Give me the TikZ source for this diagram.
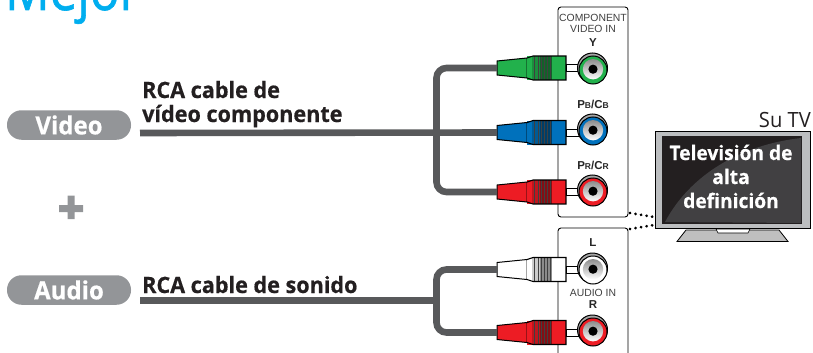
\documentclass[tikz,border=0pt]{standalone}
\usepackage{fontspec}
\setmainfont{Open Sans}[FakeStretch=0.96,BoldFeatures={FakeBold=0.5}]
\newfontfamily\arialf{Liberation Sans}
\newfontfamily\mejorf{Open Sans}[FakeStretch=0.85,FakeBold=1]
\definecolor{cablegray}{HTML}{58595B}
\definecolor{pillgray}{HTML}{939598}
\definecolor{mejorcyan}{HTML}{00AEEF}
\definecolor{rgreen}{HTML}{22B14C}
\definecolor{rblue}{HTML}{0071BC}
\definecolor{rred}{HTML}{ED1C24}
\definecolor{tvdark}{HTML}{231F20}
\definecolor{tvlight}{HTML}{414042}
\definecolor{tvframe}{HTML}{BCBEC0}
\newcommand{\fsz}[1]{\fontsize{#1}{#1}\selectfont}
% name, plug y, jack y, fill colour
\newcommand{\rcaplug}[4]{%
  \begin{scope}[shift={(0,#2)}]
    \coordinate (#1tip) at (497,0);
    \draw[black,line width=1pt,fill=#4] (497,-7) -- (527,-10) -- (527,10) -- (497,7) -- cycle;
    \fill[#4] (527,-12) rectangle (566,12);
    \fill[#4!55!black] (540,-12) rectangle (552,12);
    \fill[#4!80!black] (532,-12) rectangle (540,12);
    \foreach \xx in {534,538,541,544,547,550}
      \draw[black!75,line width=.5pt] (\xx,-12) -- (\xx,12);
    \draw[black,line width=1.1pt] (527,-10) -- (533,-12) -- (566,-12) -- (566,12) -- (533,12) -- (527,10);
    \draw[black,line width=.8pt,fill=white] (566,-3.5) rectangle (582,3.5);
  \end{scope}
  \begin{scope}[shift={(593,#3)}]
    \draw[black,line width=1pt,fill=black!35] (-.5,-2) circle (15);
    \draw[black,line width=1pt,fill=#4] (0,0) circle (14);
    \shade[top color=black!45,bottom color=white] (0,-.8) circle (10.2);
    \fill[black] (0,-.8) circle (4.6);
  \end{scope}%
}
\tikzset{
  lbl/.style={inner sep=0pt,anchor=base west,font=\bfseries\fsz{22.5},text=tvdark},
  pill/.style={fill=pillgray,rounded corners=14.5pt,minimum width=124pt,minimum height=29.5pt,inner sep=0pt,text=white,font=\bfseries\fsz{25}},
  cable/.style={draw=cablegray,line width=6.6pt,rounded corners=10pt},
  panel/.style={draw=black,line width=.9pt},
  panellab/.style={inner sep=0pt,anchor=base,text=black!75,font=\arialf\fsz{10.4}},
  jacklab/.style={inner sep=0pt,anchor=base,text=black!85,font=\arialf\bfseries\fsz{11.5}},
  dots/.style={black,line width=3pt,line cap=round,dash pattern=on 0.01pt off 5.6pt},
  tvtext/.style={inner sep=0pt,anchor=base,text=white,font=\bfseries\fsz{20}},
}
\begin{document}
\begin{tikzpicture}[x=1pt,y=-1pt]
\useasboundingbox (0,0) rectangle (813,353);
\begin{scope}
\clip (0,0) rectangle (813,353);
\node[inner sep=0pt,anchor=base west,text=mejorcyan,font=\mejorf\fsz{58}] (mejor) at (5,10) {Mejor};
% panels
\draw[panel,rounded corners=3pt] (558,7) rectangle (628,217);
\draw[panel,rounded corners=3pt] (558,360) -- (558,228) -- (628,228) -- (628,360);
\coordinate (panelA) at (628,214);
\coordinate (panelB) at (628,229);
% plugs and jacks
\rcaplug{g}{68}{70}{rgreen}
\rcaplug{b}{132.5}{131}{rblue}
\rcaplug{r}{192}{192}{rred}
\rcaplug{w}{269.5}{270}{white}
\rcaplug{a}{332.5}{332}{rred}
% cables
\coordinate (vstart) at (140,133);
\coordinate (astart) at (140,300.5);
\coordinate (vj) at (436.5,133);
\coordinate (aj) at (436.5,300.5);
\draw[cable] (gtip) -| (vj) |- (rtip);
\draw[cable,rounded corners=0pt] (vstart) -- (btip);
\draw[cable] (wtip) -| (aj) |- (atip);
\draw[cable,rounded corners=0pt] (astart) -- (aj);
% pills, plus
\node[pill] (video) at (69,125) {Video};
\node[pill] (audio) at (69,290) {Audio};
\fill[pillgray] (59,205) rectangle (83,212) (67.5,195.5) rectangle (74.5,219);
% cable labels
\node[lbl] (l1) at (142,98) {RCA cable de};
\node[lbl] (l2) at (142,122) {vídeo componente};
\node[lbl] (l3) at (142,293) {RCA cable de sonido};
% panel labels
\node[panellab] (c1) at (593,22) {COMPONENT};
\node[panellab] (c2) at (593,33) {VIDEO IN};
\node[jacklab] (y) at (593,47) {Y};
\node[jacklab] (pb) at (593,108) {P{\fsz{8.5}B}/C{\fsz{8.5}B}};
\node[jacklab] (pr) at (593,169) {P{\fsz{8.5}R}/C{\fsz{8.5}R}};
\node[jacklab] (ll) at (593,246) {L};
\node[panellab] (ai) at (593,296) {AUDIO IN};
\node[jacklab] (rr) at (593,308) {R};
% tv
\draw[black,line width=.8pt,fill=black!25] (677,241.5) -- (686,230) -- (779,230) -- (788,241.5) -- cycle;
\draw[black,line width=.6pt,fill=white] (716,229) -- (718,233) -- (748,233) -- (750,229) -- cycle;
\draw[black,line width=.8pt,fill=tvframe] (655,131) rectangle (810,228);
\fill[tvdark] (662,136) rectangle (802,224);
\fill[tvlight] (665,222) .. controls (690,175) and (740,145) .. (801,138) -- (801,223) -- cycle;
\coordinate (tvA) at (654,217);
\coordinate (tvB) at (654,225);
\draw[dots] (panelA) ++(2,-1) -- (tvA);
\draw[dots] (panelB) ++(2,0) -- (tvB);
\node[inner sep=0pt,anchor=base east,text=tvdark,font=\fsz{21}] (su) at (811,127) {Su TV};
\node[tvtext] (t1) at (731,160) {Televisión de};
\node[tvtext] (t2) at (731,184) {alta};
\node[tvtext] (t3) at (731,208) {definición};
\end{scope}
\end{tikzpicture}
\end{document}
